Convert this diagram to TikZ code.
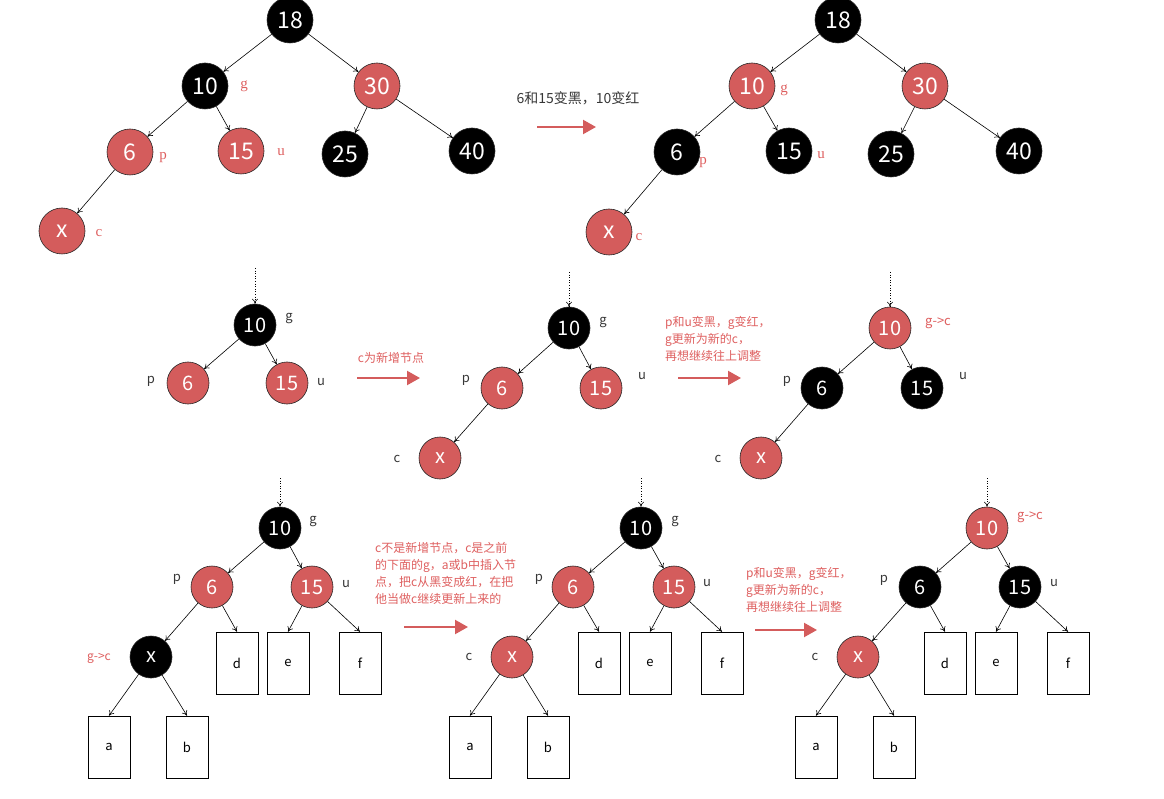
\documentclass[tikz,border=0pt]{standalone}
\usepackage{fontspec}
\setmainfont{Noto Sans CJK SC}
\newfontfamily\lblserif{Liberation Serif}
\usetikzlibrary{arrows.meta}
\definecolor{rbred}{RGB}{212,92,92}
\definecolor{lblred}{RGB}{222,95,95}
\definecolor{lblgrey}{RGB}{55,55,55}
\tikzset{
 rn/.style={circle,draw=black!85,line width=0.6pt,fill=rbred,text=white,minimum size=42pt,inner sep=0pt,font=\fontsize{20}{20}\selectfont},
 bn/.style={rn,fill=black},
 big/.style={minimum size=46pt,font=\fontsize{23}{23}\selectfont},
 leaf/.style={draw,rectangle,line width=0.6pt,minimum width=42pt,minimum height=62pt,inner sep=0pt,font=\fontsize{13}{13}\selectfont},
 edge/.style={-{To[length=5pt,width=6pt]},line width=0.6pt},
 topin/.style={edge,dotted},
 rlab/.style={text=lblred,font=\fontsize{13}{13}\selectfont},
 slab/.style={text=lblred,font=\lblserif\fontsize{15}{15}\selectfont},
 klab/.style={text=lblgrey,font=\fontsize{13}{13}\selectfont},
 note/.style={text=lblred,align=left,anchor=north west,inner sep=0pt,font=\fontsize{12}{17}\selectfont},
 redarrow/.style={line width=2.2pt,draw=rbred,-{Triangle[length=13pt,width=14pt]}}
}
\begin{document}
\begin{tikzpicture}[x=1pt,y=-1pt]
\useasboundingbox (0,0) rectangle (1164,799);

% ---------- Row 1 left ----------
\node[bn,big] (A18) at (290,20) {18};
\node[bn,big] (A10) at (205,86) {10};
\node[rn,big] (A30) at (377,86) {30};
\node[rn,big] (A6) at (130,152) {6};
\node[rn,big] (A15) at (241,151) {15};
\node[bn,big] (A25) at (345,154) {25};
\node[bn,big] (A40) at (472,151) {40};
\node[rn,big] (Ax) at (62,231) {x};
\draw[edge] (A18) -- (A10);
\draw[edge] (A18) -- (A30);
\draw[edge] (A10) -- (A6);
\draw[edge] (A10) -- (A15);
\draw[edge] (A30) -- (A25);
\draw[edge] (A30) -- (A40);
\draw[edge] (A6) -- (Ax);
\node[slab] (Ag) at (244,86) {g};
\node[slab] (Ap) at (163,158) {p};
\node[slab] (Au) at (281,152) {u};
\node[slab] (Ac) at (99,233) {c};

\node[text=lblgrey,font=\fontsize{14}{14}\selectfont] (T1) at (578,98) {6和15变黑，10变红};
\coordinate (R1s) at (537,127);
\coordinate (R1e) at (596,127);
\draw[redarrow] (R1s) -- (R1e);

% ---------- Row 1 right ----------
\node[bn,big] (B18) at (838,20) {18};
\node[rn,big] (B10) at (752,86) {10};
\node[rn,big] (B30) at (925,86) {30};
\node[bn,big] (B6) at (677,152) {6};
\node[bn,big] (B15) at (789,151) {15};
\node[bn,big] (B25) at (891,154) {25};
\node[bn,big] (B40) at (1019,151) {40};
\node[rn,big] (Bx) at (609,232) {x};
\draw[edge] (B18) -- (B10);
\draw[edge] (B18) -- (B30);
\draw[edge] (B10) -- (B6);
\draw[edge] (B10) -- (B15);
\draw[edge] (B30) -- (B25);
\draw[edge] (B30) -- (B40);
\draw[edge] (B6) -- (Bx);
\node[slab] (Bg) at (784,90) {g};
\node[slab] (Bp) at (703,163) {p};
\node[slab] (Bu) at (821,155) {u};
\node[slab] (Bc) at (639,237) {c};

% ---------- Row 2 left ----------
\coordinate (Ct) at (255,268);
\node[bn] (C10) at (255,325) {10};
\node[rn] (C6) at (188,383) {6};
\node[rn] (C15) at (287,383) {15};
\draw[topin] (Ct) -- (C10);
\draw[edge] (C10) -- (C6);
\draw[edge] (C10) -- (C15);
\node[klab] (Cg) at (289,319) {g};
\node[klab] (Cp) at (151,381) {p};
\node[klab] (Cu) at (321,382) {u};

\node[text=lblred,font=\fontsize{12}{12}\selectfont] (T2) at (391,358) {c为新增节点};
\coordinate (R2s) at (357,378);
\coordinate (R2e) at (420,378);
\draw[redarrow] (R2s) -- (R2e);

% ---------- Row 2 middle ----------
\coordinate (Dt) at (569,272);
\node[bn] (D10) at (569,328) {10};
\node[rn] (D6) at (502,388) {6};
\node[rn] (D15) at (601,388) {15};
\node[rn] (Dx) at (440,458) {x};
\draw[topin] (Dt) -- (D10);
\draw[edge] (D10) -- (D6);
\draw[edge] (D10) -- (D15);
\draw[edge] (D6) -- (Dx);
\node[klab] (Dg) at (603,323) {g};
\node[klab] (Dp) at (466,380) {p};
\node[klab] (Du) at (642,376) {u};
\node[klab] (Dc) at (397,459) {c};

\node[note] (T3) at (665,316) {p和u变黑，g变红，\\g更新为新的c，\\再想继续往上调整};
\coordinate (R3s) at (678,378);
\coordinate (R3e) at (741,378);
\draw[redarrow] (R3s) -- (R3e);

% ---------- Row 2 right ----------
\coordinate (Et) at (890,272);
\node[rn] (E10) at (890,328) {10};
\node[bn] (E6) at (822,388) {6};
\node[bn] (E15) at (922,388) {15};
\node[rn] (Ex) at (761,458) {x};
\draw[topin] (Et) -- (E10);
\draw[edge] (E10) -- (E6);
\draw[edge] (E10) -- (E15);
\draw[edge] (E6) -- (Ex);
\node[rlab] (Eg) at (938,323) {g->c};
\node[klab] (Ep) at (787,381) {p};
\node[klab] (Eu) at (963,376) {u};
\node[klab] (Ec) at (718,459) {c};

% ---------- Row 3 left ----------
\coordinate (Ft) at (280,478);
\node[bn] (F10) at (280,528) {10};
\node[rn] (F6) at (212,587) {6};
\node[rn] (F15) at (312,587) {15};
\node[bn] (Fx) at (151,657) {x};
\node[leaf] (Fa) at (109,747) {a};
\node[leaf] (Fb) at (187,747) {b};
\node[leaf] (Fd) at (237,663) {d};
\node[leaf] (Fe) at (288,663) {e};
\node[leaf] (Ff) at (360,663) {f};
\draw[topin] (Ft) -- (F10);
\draw[edge] (F10) -- (F6);
\draw[edge] (F10) -- (F15);
\draw[edge] (F6) -- (Fx);
\draw[edge] (F6) -- (Fd.north);
\draw[edge] (F15) -- (Fe.north);
\draw[edge] (F15) -- (Ff.north);
\draw[edge] (Fx) -- (Fa.north);
\draw[edge] (Fx) -- (Fb.north);
\node[klab] (Fg) at (313,522) {g};
\node[klab] (Fp) at (177,579) {p};
\node[klab] (Fu) at (346,584) {u};
\node[rlab,font=\fontsize{12}{12}\selectfont] (Fgc) at (99,658) {g->c};

\node[note] (T4) at (375,542) {c不是新增节点，c是之前\\的下面的g，a或b中插入节\\点，把c从黑变成红，在把\\他当做c继续更新上来的};
\coordinate (R4s) at (404,627);
\coordinate (R4e) at (468,627);
\draw[redarrow] (R4s) -- (R4e);

% ---------- Row 3 middle ----------
\coordinate (Gt) at (641,478);
\node[bn] (G10) at (641,528) {10};
\node[rn] (G6) at (573,587) {6};
\node[rn] (G15) at (674,587) {15};
\node[rn] (Gx) at (512,657) {x};
\node[leaf] (Ga) at (470,747) {a};
\node[leaf] (Gb) at (548,747) {b};
\node[leaf] (Gd) at (599,663) {d};
\node[leaf] (Ge) at (650,663) {e};
\node[leaf] (Gf) at (722,663) {f};
\draw[topin] (Gt) -- (G10);
\draw[edge] (G10) -- (G6);
\draw[edge] (G10) -- (G15);
\draw[edge] (G6) -- (Gx);
\draw[edge] (G6) -- (Gd.north);
\draw[edge] (G15) -- (Ge.north);
\draw[edge] (G15) -- (Gf.north);
\draw[edge] (Gx) -- (Ga.north);
\draw[edge] (Gx) -- (Gb.north);
\node[klab] (Gg) at (675,522) {g};
\node[klab] (Gp) at (539,579) {p};
\node[klab] (Gu) at (707,583) {u};
\node[klab] (Gc) at (469,657) {c};

\node[note] (T5) at (746,567) {p和u变黑，g变红，\\g更新为新的c，\\再想继续往上调整};
\coordinate (R5s) at (755,630);
\coordinate (R5e) at (817,630);
\draw[redarrow] (R5s) -- (R5e);

% ---------- Row 3 right ----------
\coordinate (Ht) at (987,478);
\node[rn] (H10) at (987,528) {10};
\node[bn] (H6) at (920,587) {6};
\node[bn] (H15) at (1020,587) {15};
\node[rn] (Hx) at (858,657) {x};
\node[leaf] (Ha) at (816,747) {a};
\node[leaf] (Hb) at (894,747) {b};
\node[leaf] (Hd) at (945,663) {d};
\node[leaf] (He) at (996,663) {e};
\node[leaf] (Hf) at (1068,663) {f};
\draw[topin] (Ht) -- (H10);
\draw[edge] (H10) -- (H6);
\draw[edge] (H10) -- (H15);
\draw[edge] (H6) -- (Hx);
\draw[edge] (H6) -- (Hd.north);
\draw[edge] (H15) -- (He.north);
\draw[edge] (H15) -- (Hf.north);
\draw[edge] (Hx) -- (Ha.north);
\draw[edge] (Hx) -- (Hb.north);
\node[rlab] (Hg) at (1030,517) {g->c};
\node[klab] (Hp) at (884,580) {p};
\node[klab] (Hu) at (1054,583) {u};
\node[klab] (Hc) at (815,657) {c};
\end{tikzpicture}
\end{document}
